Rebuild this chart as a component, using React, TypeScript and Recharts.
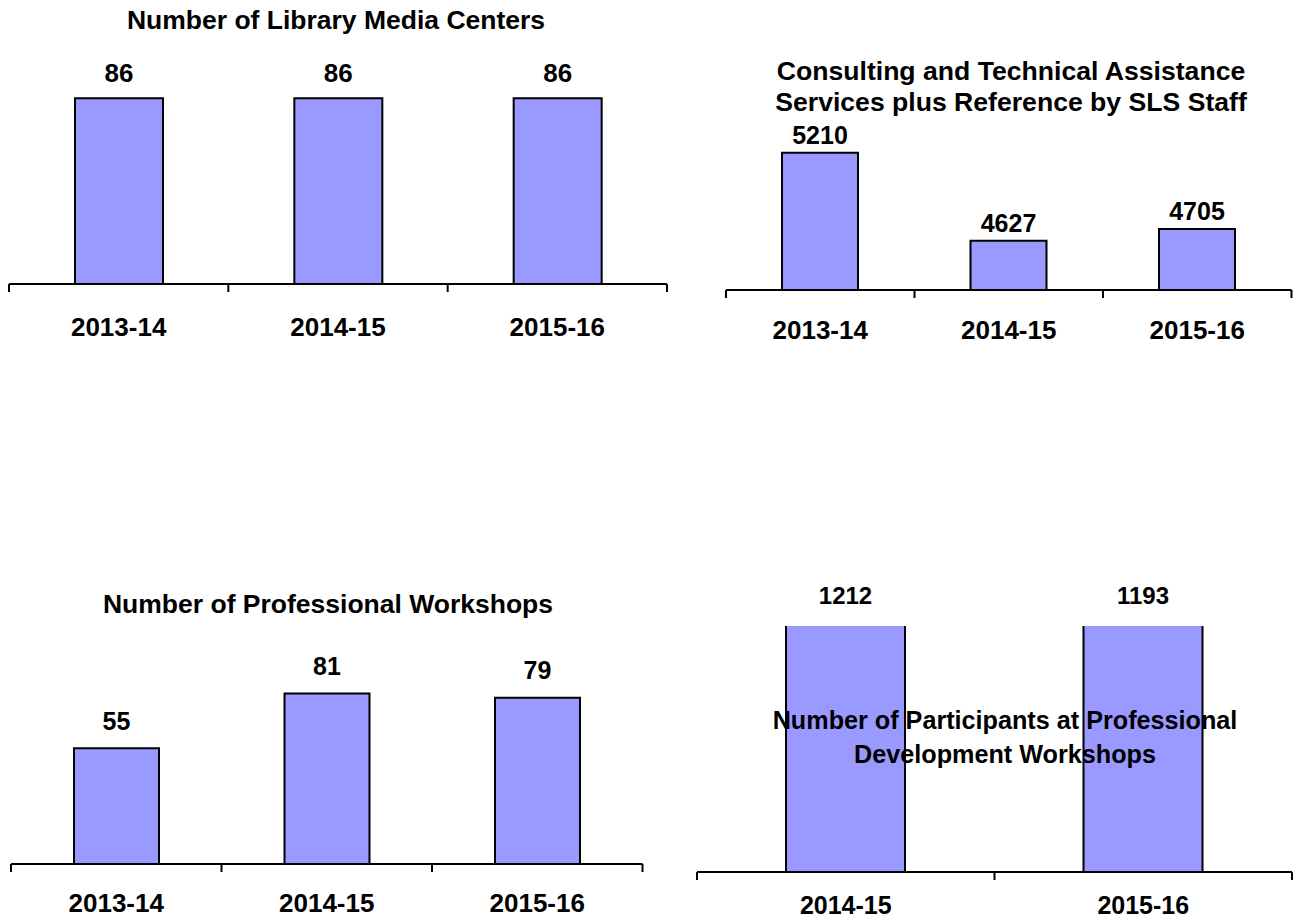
import React from 'react';
import { BarChart, Bar, XAxis, YAxis, LabelList } from 'recharts';

const YEARS = ['2013-14', '2014-15', '2015-16'];
const YEARS_LATE = ['2014-15', '2015-16'];
const MEDIA_CENTERS = [86, 86, 86];
const CONSULTING = [5210, 4627, 4705];
const WORKSHOPS = [55, 81, 79];
const PARTICIPANTS = [1212, 1193];

const FONT = '"Liberation Sans", Arial, Helvetica, sans-serif';
const BAR_FILL = '#9999ff';

type Margin = { top: number; right: number; bottom: number; left: number };

type PanelProps = {
    left: number;
    top: number;
    width: number;
    height: number;
    margin: Margin;
    axisHeight: number;
    years: string[];
    values: number[];
    domain: [number, number];
    overflow?: boolean;
    barSize: number;
    labelGap: number;
    labelSize: number;
    catDy: number;
    catSize?: number;
};

const Panel: React.FC<PanelProps> = ({
    left, top, width, height, margin, axisHeight, years, values,
    domain, overflow = false, barSize, labelGap, labelSize, catDy, catSize = 26,
}) => {
    const data = years.map((year, i) => ({ year, value: values[i] }));
    const band = (width - margin.left - margin.right) / years.length;

    // excel-style ticks sit between the categories, not under them
    const renderTick = (p: any) => {
        const x = Number(p.x);
        const y = Number(p.y);
        const last = p.index === years.length - 1;
        return (
            <g>
                <line x1={x - band / 2} x2={x - band / 2} y1={y} y2={y + 8} stroke="#000" strokeWidth={2} />
                {last && <line x1={x + band / 2} x2={x + band / 2} y1={y} y2={y + 8} stroke="#000" strokeWidth={2} />}
                <text
                    x={x}
                    y={y + catDy}
                    textAnchor="middle"
                    dominantBaseline="central"
                    fontSize={catSize}
                    fontWeight="bold"
                    fontFamily={FONT}
                    fill="#000"
                >
                    {p.payload.value}
                </text>
            </g>
        );
    };

    const renderLabel = (p: any) => {
        const barTop = Math.max(Number(p.y), margin.top);
        return (
            <text
                x={Number(p.x) + Number(p.width) / 2}
                y={barTop - labelGap}
                textAnchor="middle"
                dominantBaseline="central"
                fontSize={labelSize}
                fontWeight="bold"
                fontFamily={FONT}
                fill="#000"
            >
                {p.value}
            </text>
        );
    };

    return (
        <div style={{ position: 'absolute', left, top, width, height }}>
            <BarChart width={width} height={height} data={data} margin={margin}>
                <XAxis
                    dataKey="year"
                    height={axisHeight}
                    interval={0}
                    tickLine={false}
                    tickSize={0}
                    tickMargin={0}
                    axisLine={{ stroke: '#000', strokeWidth: 2 }}
                    tick={renderTick}
                />
                <YAxis hide domain={domain} allowDataOverflow={overflow} />
                <Bar
                    dataKey="value"
                    fill={BAR_FILL}
                    stroke="#000"
                    strokeWidth={2}
                    barSize={barSize}
                    isAnimationActive={false}
                >
                    <LabelList dataKey="value" content={renderLabel} />
                </Bar>
            </BarChart>
        </div>
    );
};

const Title: React.FC<{ cx: number; y: number; lines: string[]; gap: number; size: number }> = ({ cx, y, lines, gap, size }) => (
    <div
        style={{
            position: 'absolute',
            left: cx - 320,
            top: y - gap / 2,
            width: 640,
            textAlign: 'center',
            fontFamily: FONT,
            fontWeight: 'bold',
            fontSize: size,
            lineHeight: `${gap}px`,
            color: '#000',
            pointerEvents: 'none',
        }}
    >
        {lines.map((l) => (
            <div key={l}>{l}</div>
        ))}
    </div>
);

export default function App() {
    return (
        <div style={{ position: 'absolute', left: 0, top: 0, width: 1296, height: 921, background: '#fff', overflow: 'hidden' }}>
            <Panel
                left={0} top={0} width={680} height={360}
                margin={{ top: 68, right: 13, bottom: 26, left: 9 }}
                axisHeight={50}
                years={YEARS} values={MEDIA_CENTERS}
                domain={[0, 100]} barSize={88}
                labelGap={25} labelSize={26} catDy={43}
            />
            <Title cx={336} y={20} lines={['Number of Library Media Centers']} gap={31} size={26.5} />

            <Panel
                left={700} top={0} width={596} height={360}
                margin={{ top: 124, right: 4.5, bottom: 20, left: 26 }}
                axisHeight={50}
                years={YEARS} values={CONSULTING}
                domain={[4300, 5400]} barSize={76}
                labelGap={18} labelSize={25} catDy={40}
            />
            <Title cx={1011} y={71} lines={['Consulting and Technical Assistance', 'Services plus Reference by SLS Staff']} gap={31} size={26.6} />

            <Panel
                left={0} top={560} width={680} height={361}
                margin={{ top: 93.5, right: 37.5, bottom: 7, left: 11 }}
                axisHeight={50}
                years={YEARS} values={WORKSHOPS}
                domain={[0, 100]} barSize={85}
                labelGap={27.5} labelSize={25} catDy={39}
            />
            <Title cx={328} y={604} lines={['Number of Professional Workshops']} gap={31} size={26.5} />

            <Panel
                left={680} top={560} width={616} height={361}
                margin={{ top: 66, right: 4, bottom: 4, left: 17 }}
                axisHeight={45}
                years={YEARS_LATE} values={PARTICIPANTS}
                domain={[0, 1000]} overflow barSize={119}
                labelGap={31} labelSize={24} catDy={33} catSize={25}
            />
            <Title cx={1005} y={720} lines={['Number of Participants at Professional', 'Development Workshops']} gap={34} size={25.2} />
        </div>
    );
}
